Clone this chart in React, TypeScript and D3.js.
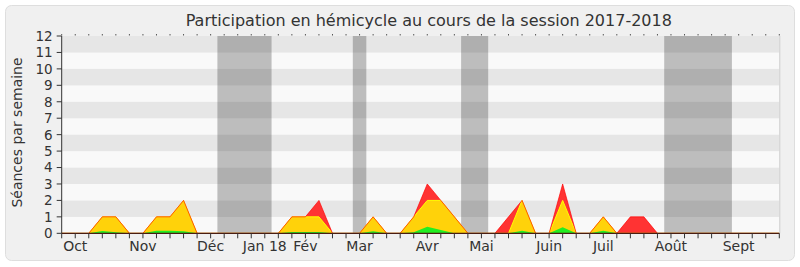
import React from "react";
import * as d3 from "d3";

const WIDTH = 800;
const HEIGHT = 267;

// weekly data (index 0..53)
const weeks = d3.range(0, 54);
const seancesTotal = [
  0, 0, 0, 1, 1, 0, 0, 1, 1, 2, 0, 0, 0, 0, 0, 0, 0, 1, 1, 2, 0, 0, 0, 1, 0, 0, 1, 3, 2, 1, 0, 0,
  0, 1, 2, 0, 0, 3, 0, 0, 1, 0, 1, 1, 0, 0, 0, 0, 0, 0, 0, 0, 0, 0,
];
const presences = [
  0, 0, 0, 1, 1, 0, 0, 1, 1, 2, 0, 0, 0, 0, 0, 0, 0, 1, 1, 1, 0, 0, 0, 1, 0, 0, 1, 2, 2, 1, 0, 0,
  0, 0, 2, 0, 0, 2, 0, 0, 1, 0, 0, 0, 0, 0, 0, 0, 0, 0, 0, 0, 0, 0,
];
const interventions = [
  0, 0, 0, 0.14, 0.06, 0, 0, 0.15, 0.15, 0.12, 0, 0, 0, 0, 0, 0, 0, 0.08, 0.08, 0.08, 0, 0, 0, 0.12,
  0, 0, 0.07, 0.4, 0.2, 0, 0, 0, 0, 0, 0.15, 0, 0, 0.37, 0, 0, 0.15, 0, 0, 0, 0, 0, 0, 0, 0, 0, 0,
  0, 0, 0,
];
const vacances: [number, number][] = [
  [11.5, 15.5],
  [21.5, 22.5],
  [29.5, 31.5],
  [44.5, 49.5],
];
const monthLabels = ["Oct", "Nov", "Déc", "Jan 18", "Fév", "Mar", "Avr", "Mai", "Juin", "Juil", "Août", "Sept"];
const monthWeeks = [1, 6, 11, 15, 18, 22, 27, 31, 36, 40, 45, 50];
const yTicks = d3.range(0, 13);

const TITLE = "Participation en hémicycle au cours de la session 2017-2018";
const YTITLE = "Séances par semaine";

const FONT = "'DejaVu Sans', sans-serif";

export default function App() {
  const x = d3.scaleLinear().domain([0, 53]).range([61.7, 779.3]);
  const y = d3.scaleLinear().domain([0, 12]).range([233.3, 36]);

  const areaOf = (vals: number[]) =>
    d3
      .area<number>()
      .x((i) => x(i))
      .y0(y(0))
      .y1((i) => y(vals[i]))(weeks) || "";
  const lineOf = (vals: number[]) =>
    d3
      .line<number>()
      .x((i) => x(i))
      .y((i) => y(vals[i]))(weeks) || "";

  const [x0, x1] = x.range();

  return (
    <svg
      width={WIDTH}
      height={HEIGHT}
      style={{ position: "absolute", left: 0, top: 0 }}
      fontFamily={FONT}
    >
      <rect x={0} y={0} width={WIDTH} height={HEIGHT} fill="#ffffff" />
      <rect x={5.5} y={5.5} width={789} height={255} rx={6} fill="#f0f0f0" stroke="#dedede" />

      {/* stripes */}
      {d3.range(0, 12).map((k) => (
        <rect
          key={"s" + k}
          x={x0}
          y={y(k + 1)}
          width={x1 - x0}
          height={y(k) - y(k + 1)}
          fill={k % 2 === 1 ? "#e6e6e6" : "#f9f9f9"}
        />
      ))}

      {/* vacation bands */}
      {vacances.map(([a, b], k) => (
        <rect
          key={"v" + k}
          x={x(a)}
          y={y(12)}
          width={x(b) - x(a)}
          height={y(0) - y(12)}
          fill="#000"
          fillOpacity={0.24}
        />
      ))}

      {/* areas */}
      <path d={areaOf(seancesTotal)} fill="#ff3333" />
      <path d={areaOf(presences)} fill="#ffd20a" />
      <path d={areaOf(interventions)} fill="#22ee22" />
      <path d={lineOf(presences)} fill="none" stroke="#ffff00" strokeWidth={1} />
      <path d={lineOf(seancesTotal)} fill="none" stroke="#ff0000" strokeWidth={1} strokeOpacity={0.65} />

      {/* right border */}
      <line x1={x1 + 0.5} x2={x1 + 0.5} y1={y(12)} y2={y(0)} stroke="#cfcfcf" />

      {/* axes */}
      <line x1={x0} x2={x0} y1={y(12)} y2={y(0)} stroke="#333" />
      <line x1={x0} x2={x1} y1={y(0)} y2={y(0)} stroke="#4a1c10" strokeWidth={1.3} />
      {weeks.map((i) => (
        <g key={"t" + i}>
          <line x1={x(i)} x2={x(i)} y1={y(0)} y2={y(0) + 5} stroke="#333" />
          <line x1={x(i)} x2={x(i)} y1={y(12) - 2} y2={y(12) - 0.5} stroke="#555" />
        </g>
      ))}
      {yTicks.map((v) => (
        <g key={"y" + v}>
          <line x1={x0 - 5} x2={x0} y1={y(v)} y2={y(v)} stroke="#333" />
          <text
            x={x0 - 9}
            y={y(v)}
            dy="0.36em"
            textAnchor="end"
            fontSize={13.5}
            fill="#333"
          >
            {v}
          </text>
        </g>
      ))}
      {monthLabels.map((m, k) => (
        <text
          key={"m" + k}
          x={x(monthWeeks[k])}
          y={251.3}
          textAnchor="middle"
          fontSize={14}
          fill="#333"
        >
          {m}
        </text>
      ))}

      <text x={428.8} y={26} textAnchor="middle" fontSize={16} fill="#333">
        {TITLE}
      </text>
      <text
        transform={`translate(21.5, 132.5) rotate(-90)`}
        textAnchor="middle"
        fontSize={14}
        fill="#333"
      >
        {YTITLE}
      </text>
    </svg>
  );
}
